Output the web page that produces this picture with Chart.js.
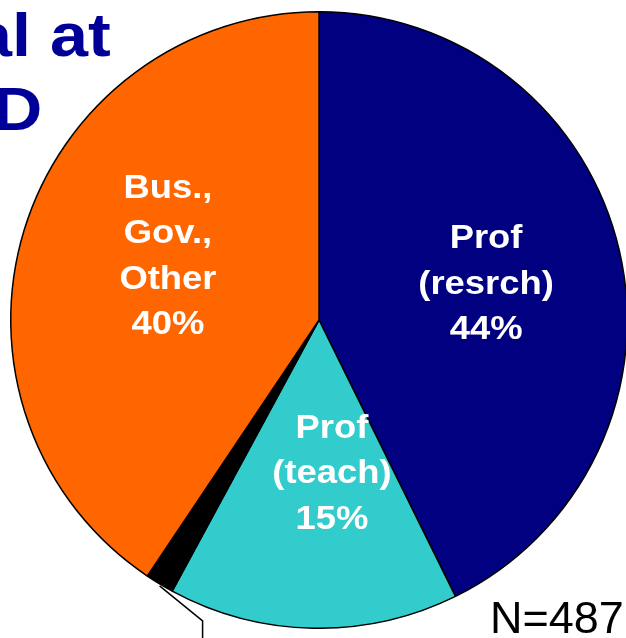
<!DOCTYPE html>
<html lang="en">
<head>
    <meta charset="UTF-8">
    <title>Career goal at PhD</title>
    <script src="https://cdn.jsdelivr.net/npm/chart.js"></script>
    <style>
        html, body { margin: 0; padding: 0; background: #fff; overflow: hidden; }
        .chart-container { position: relative; width: 640px; height: 638px; }
    </style>
</head>
<body>
    <div class="chart-container">
        <canvas id="chart1"></canvas>
    </div>
    <script>
        // Slice data, clockwise from 12 o'clock
        const categories = ["Prof (resrch)", "Prof (teach)", "Unknown", "Bus., Gov., Other"];
        const shares = [42.7, 15.2, 1.5, 40.6];
        const sliceColors = ["#000080", "#33CCCC", "#000000", "#FF6600"];

        // Text written inside the slices (null = no label)
        const sliceLabels = [
            ["Prof", "(resrch)", "44%"],
            ["Prof", "(teach)", "15%"],
            null,
            ["Bus.,", "Gov.,", "Other", "40%"]
        ];
        // label anchor, as a fraction of the radius from the pie centre
        const labelAnchors = [[0.542, -0.085], [0.042, 0.53], null, [-0.49, -0.175]];

        const titleLines = ["al at", "D"];
        const sampleNote = "N=487";

        // Title, slice labels, leader line and the N note
        const textPlugin = {
            id: "pieText",
            afterDraw(chart) {
                const ctx = chart.ctx;
                const arcs = chart.getDatasetMeta(0).data;

                // title (cropped on the left in the original)
                ctx.save();
                ctx.fillStyle = "#000099";
                ctx.font = "bold 61px 'Liberation Sans', Arial, sans-serif";
                ctx.textBaseline = "alphabetic";
                ctx.textAlign = "left";
                ctx.translate(-26, 56);
                ctx.scale(1.12, 1);
                ctx.fillText(titleLines[0], 0, 0);
                ctx.restore();
                ctx.save();
                ctx.fillStyle = "#000099";
                ctx.font = "bold 61px 'Liberation Sans', Arial, sans-serif";
                ctx.translate(-7, 130);
                ctx.scale(1.12, 1);
                ctx.fillText(titleLines[1], 0, 0);
                ctx.restore();

                // labels inside slices
                arcs.forEach((arc, i) => {
                    const lines = sliceLabels[i];
                    if (!lines) return;
                    const r = arc.outerRadius;
                    const cx = arc.x + labelAnchors[i][0] * r;
                    const cy = arc.y + labelAnchors[i][1] * r;
                    const lineH = 45.3;
                    ctx.save();
                    ctx.fillStyle = "#ffffff";
                    ctx.font = "bold 32.5px 'Liberation Sans', Arial, sans-serif";
                    ctx.textAlign = "center";
                    ctx.textBaseline = "alphabetic";
                    lines.forEach((line, j) => {
                        const y = cy + (j - (lines.length - 1) / 2) * lineH;
                        ctx.save();
                        ctx.translate(cx, y);
                        ctx.scale(1.12, 1);
                        ctx.fillText(line, 0, 0);
                        ctx.restore();
                    });
                    ctx.restore();
                });

                // leader line from the thin black slice
                const small = arcs[2];
                const mid = (small.startAngle + small.endAngle) / 2;
                const sx = small.x + Math.cos(mid) * small.outerRadius;
                const sy = small.y + Math.sin(mid) * small.outerRadius;
                ctx.save();
                ctx.strokeStyle = "#000";
                ctx.lineWidth = 1.5;
                ctx.beginPath();
                ctx.moveTo(sx, sy + 2);
                ctx.lineTo(sx + 43, sy + 37);
                ctx.lineTo(sx + 43, chart.height);
                ctx.stroke();
                ctx.restore();

                // sample size
                ctx.save();
                ctx.fillStyle = "#000";
                ctx.font = "45px 'Liberation Sans', Arial, sans-serif";
                ctx.textAlign = "left";
                ctx.textBaseline = "alphabetic";
                ctx.fillText(sampleNote, 490, 633);
                ctx.restore();
            }
        };

        const ctx = document.getElementById("chart1").getContext("2d");
        new Chart(ctx, {
            type: "pie",
            data: {
                labels: categories,
                datasets: [{
                    data: shares,
                    backgroundColor: sliceColors,
                    borderColor: "#000000",
                    borderWidth: 1.5,
                    hoverOffset: 0,
                    offset: 0
                }]
            },
            options: {
                responsive: true,
                maintainAspectRatio: false,
                animation: false,
                events: [],
                layout: { padding: { left: 10, right: 12, top: 11, bottom: 9 } },
                plugins: {
                    legend: { display: false },
                    tooltip: { enabled: false }
                }
            },
            plugins: [textPlugin]
        });
    </script>
</body>
</html>
